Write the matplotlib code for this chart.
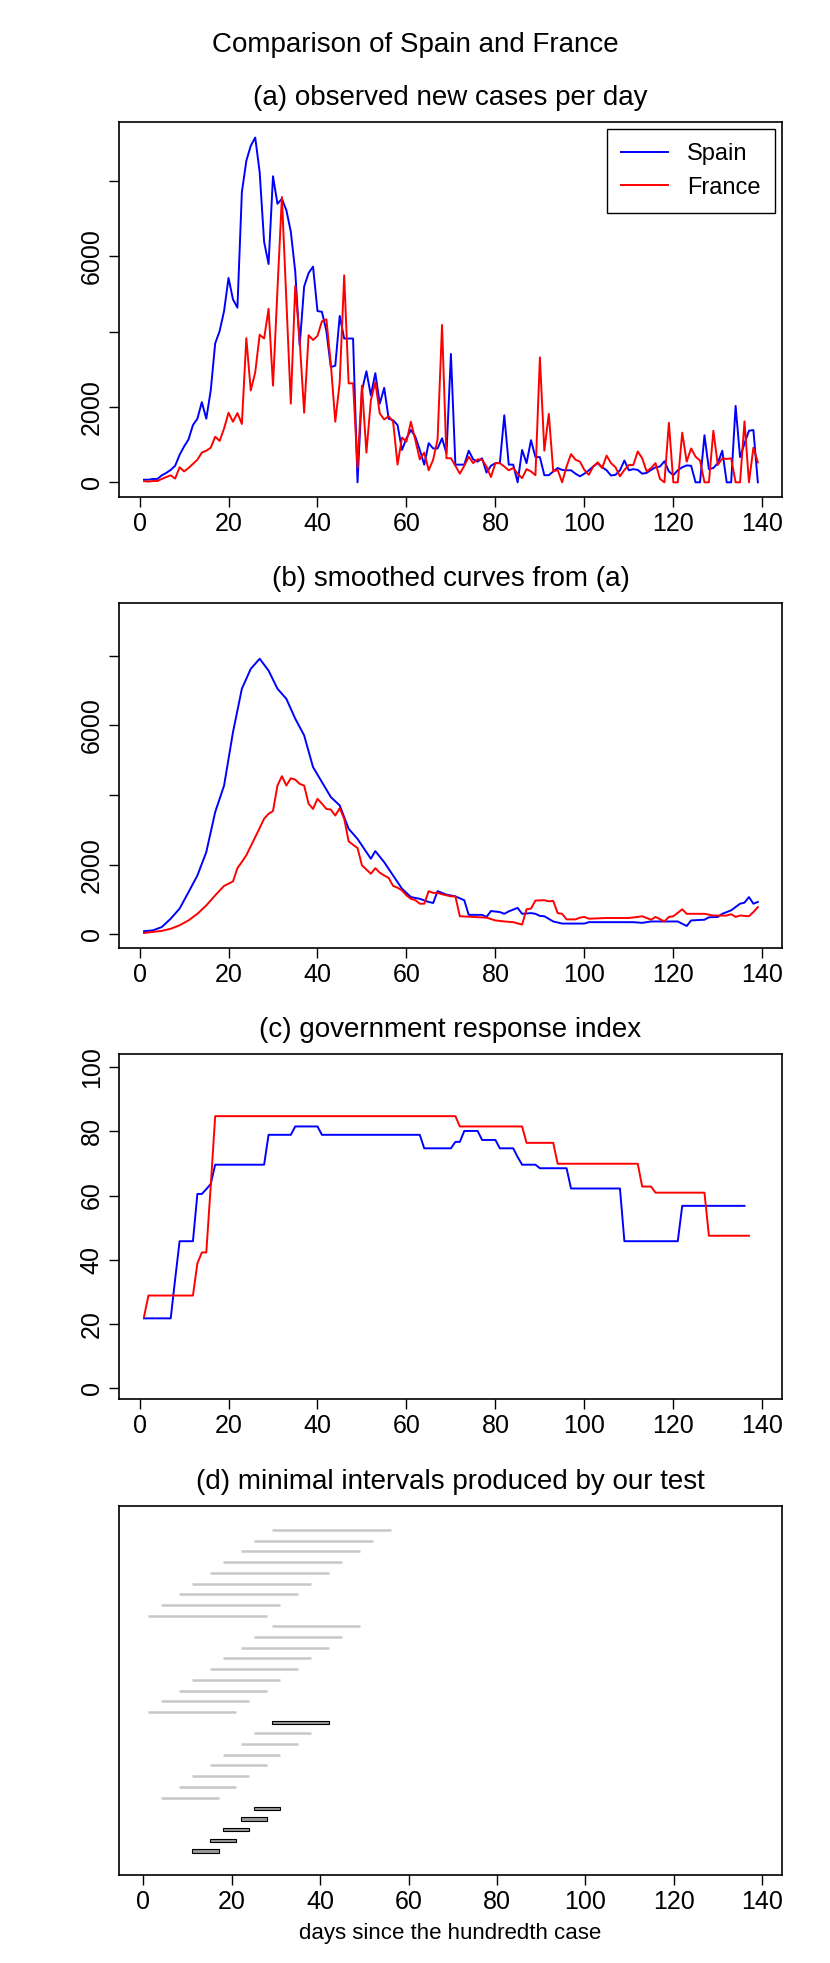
import matplotlib
matplotlib.use("Agg")
import matplotlib.pyplot as plt
from matplotlib.patches import Rectangle

plt.rcParams["font.family"] = "Liberation Sans"
plt.rcParams["font.size"] = 18

# (a) observed new cases per day, days 1..139
spain_obs = [70, 70, 90, 90, 185, 250, 330, 440, 730, 950, 1140, 1520, 1690, 2130, 1690, 2440, 3690, 4020, 4550, 5430,
             4860, 4640, 7710, 8540, 8940, 9160, 8240, 6390, 5800, 8130, 7400, 7530, 7230, 6660, 5600, 3640, 5200, 5560, 5730, 4550,
             4530, 4020, 3060, 3100, 4420, 3820, 3820, 3820, 0, 2440, 2950, 2310, 2900, 2090, 2510, 1690, 1650, 1520, 860, 1170,
             1390, 1210, 860, 470, 1040, 900, 900, 1170, 770, 3410, 470, 470, 470, 840, 610, 550, 640, 260, 440, 510,
             510, 1780, 470, 470, 0, 860, 510, 1120, 670, 670, 190, 190, 290, 380, 330, 320, 320, 230, 160, 230,
             320, 420, 510, 400, 320, 180, 200, 320, 580, 320, 350, 330, 230, 250, 330, 400, 420, 560, 290, 190,
             320, 400, 450, 440, 0, 0, 1250, 350, 380, 510, 840, 0, 0, 2030, 670, 1030, 1370, 1390, 0]
france_obs = [30, 20, 35, 35, 90, 140, 185, 100, 400, 290, 380, 490, 600, 790, 840, 920, 1210, 1100, 1430, 1850,
              1610, 1840, 1550, 3830, 2440, 2920, 3920, 3820, 4610, 2570, 5120, 7580, 4810, 2090, 5220, 3760, 1850, 3910, 3780, 3890,
              4280, 4330, 3140, 1610, 2660, 5500, 2630, 2630, 400, 2570, 790, 2180, 2660, 1830, 1670, 1760, 1610, 470, 1190, 1080,
              1610, 1120, 610, 790, 320, 600, 1140, 4180, 640, 640, 440, 230, 440, 680, 510, 610, 600, 420, 140, 510,
              510, 420, 320, 380, 230, 110, 350, 290, 190, 3320, 840, 1820, 290, 330, 0, 420, 750, 600, 550, 330,
              200, 420, 530, 380, 710, 510, 400, 160, 330, 460, 460, 820, 640, 290, 380, 510, 90, 0, 1580, 0,
              0, 1320, 550, 900, 680, 580, 0, 0, 1370, 460, 640, 620, 640, 0, 0, 1620, 0, 920, 530]
days_obs = list(range(1, 140))

# (b) smoothed curves
spain_sm_days = [1, 3, 5, 7, 9, 11, 13, 15, 17, 19, 21, 23, 25, 27, 29, 31, 33, 35, 37, 39, 41, 43, 45, 47, 49, 51, 52, 53,
                 55, 57, 59, 61, 63, 65, 66, 67, 69, 71, 73, 74, 77, 78, 79, 81, 82, 83, 85, 86, 88, 89, 90, 91, 93, 95,
                 100, 101, 110, 111, 113, 115, 120, 121, 123, 124, 127, 128, 130, 131, 133, 135, 136, 137, 138, 139]
spain_sm = [90, 115, 210, 450, 740, 1210, 1690, 2360, 3510, 4270, 5800, 7050, 7620, 7910, 7570, 7050, 6760, 6190, 5710, 4800,
            4370, 3940, 3700, 3030, 2740, 2360, 2170, 2390, 2070, 1690, 1310, 1070, 1020, 930, 900, 1240, 1140, 1090, 980, 560,
            560, 500, 670, 640, 590, 660, 760, 590, 610, 590, 530, 520, 370, 310, 310, 350, 350, 350, 330, 370,
            370, 370, 240, 400, 420, 490, 500, 590, 690, 880, 910, 1070, 880, 930]
france_sm_days = [1, 3, 5, 7, 9, 11, 13, 15, 17, 19, 21] + list(range(22, 73)) + [75, 78, 80, 82, 84, 86, 87, 88, 89, 91, 92,
                  93, 94, 95, 96, 98, 99, 100, 101, 105, 110, 112, 113, 115, 116, 118, 119, 120, 122, 123, 127, 129, 132,
                  133, 134, 135, 137, 138, 139]
france_sm = [40, 70, 100, 160, 260, 400, 590, 830, 1120, 1390, 1520,
             1900, 2080, 2270, 2530, 2790, 3050, 3320, 3460, 3540, 4270, 4540, 4270, 4480, 4440, 4320, 4270, 3750, 3600, 3890, 3750,
             3600, 3580, 3410, 3620, 3320, 2670, 2570, 2480, 1980, 1860, 1740, 1900, 1770, 1690, 1620, 1390, 1340, 1260, 1120, 1020,
             980, 880, 880, 1240, 1190, 1190, 1150, 1120, 1090, 1090, 520,
             500, 480, 400, 370, 350, 280, 720, 740, 970, 980, 950,
             960, 610, 590, 430, 430, 480, 500, 450, 470, 470, 500, 520, 420, 500, 370, 500, 520, 720, 590, 590, 540, 540,
             580, 500, 540, 520, 640, 780]

# (c) government response index, days 1..137
spain_gri = ([21.8] * 7 + [34] + [45.8] * 4 + [60.5] * 2 + [62, 63.6] + [69.6] * 12 + [78.9] * 6 + [81.5] * 6
             + [78.9] * 23 + [74.7] * 7 + [76.7] * 2 + [80.1] * 4 + [77.3] * 4 + [74.7] * 4 + [72] + [69.6] * 4
             + [68.5] * 7 + [62.2] * 12 + [45.8] * 13 + [56.8] * 15)
france_gri = ([22.3] + [28.9] * 11 + [38.9, 42.3, 42.3, 63] + [84.7] * 55 + [81.5] * 15 + [76.4] * 7 + [69.9] * 19
              + [62.8] * 3 + [60.9] * 12 + [47.5] * 10)

# (d) minimal intervals (start, end, highlighted), bottom to top
int_start = [11, 15, 18, 22, 25, 4, 8, 11, 15, 18, 22, 25, 29, 1, 4, 8, 11, 15, 18, 22, 25, 29,
             1, 4, 8, 11, 15, 18, 22, 25, 29]
int_end = [17, 21, 24, 28, 31, 17, 21, 24, 28, 31, 35, 38, 42, 21, 24, 28, 31, 35, 38, 42, 45, 49,
           28, 31, 35, 38, 42, 45, 49, 52, 56]
int_dark = [1, 1, 1, 1, 1, 0, 0, 0, 0, 0, 0, 0, 1, 0, 0, 0, 0, 0, 0, 0, 0, 0,
            0, 0, 0, 0, 0, 0, 0, 0, 0]

fig = plt.figure(figsize=(8.3, 19.63), dpi=100)
L, W = 0.1435, 0.7985
ax1 = fig.add_axes([L, 0.747, W, 0.191])
ax2 = fig.add_axes([L, 0.517, W, 0.176])
ax3 = fig.add_axes([L, 0.2873, W, 0.1757])
ax4 = fig.add_axes([L, 0.0448, W, 0.188])

fig.text(0.5, 0.977, "Comparison of Spain and France", ha="center", va="center", fontsize=20)

def style(ax, title):
    ax.set_title(title, fontsize=20, pad=12)
    for s in ax.spines.values():
        s.set_linewidth(1.2)
    ax.tick_params(length=7, width=1, labelsize=18, pad=4)
    ax.set_xlim(-4.6, 144.4)
    ax.set_xticks(range(0, 141, 20))

ax1.plot(days_obs, spain_obs, color="blue", lw=1.4, label="Spain")
ax1.plot(days_obs, france_obs, color="red", lw=1.4, label="France")
style(ax1, "(a) observed new cases per day")
ax1.set_ylim(-380, 9580)
ax1.set_yticks(range(0, 8001, 2000))
ax1.set_yticklabels(["0", "2000", "", "6000", ""], rotation=90, va="center")
leg = ax1.legend(loc="upper right", fancybox=False, edgecolor="black", fontsize=17,
                 handlelength=2.0, borderpad=0.6, framealpha=1, borderaxespad=0.3)
leg.get_frame().set_linewidth(1)

ax2.plot(spain_sm_days, spain_sm, color="blue", lw=1.4)
ax2.plot(france_sm_days, france_sm, color="red", lw=1.4)
style(ax2, "(b) smoothed curves from (a)")
ax2.set_ylim(-395, 9520)
ax2.set_yticks(range(0, 8001, 2000))
ax2.set_yticklabels(["0", "2000", "", "6000", ""], rotation=90, va="center")

ax3.plot(range(1, len(spain_gri) + 1), spain_gri, color="blue", lw=1.4)
ax3.plot(range(1, len(france_gri) + 1), france_gri, color="red", lw=1.4)
style(ax3, "(c) government response index")
ax3.set_ylim(-3.3, 104)
ax3.set_yticks(range(0, 101, 20))
ax3.set_yticklabels([str(v) for v in range(0, 101, 20)], rotation=90, va="center")

style(ax4, "(d) minimal intervals produced by our test")
for i, (a, b, d) in enumerate(zip(int_start, int_end, int_dark)):
    if d:
        ax4.add_patch(Rectangle((a, i - 0.16), b - a, 0.32, facecolor="#999999",
                                edgecolor="black", lw=0.8))
    else:
        ax4.plot([a, b], [i, i], color="#c8c8c8", lw=1.8, solid_capstyle="butt")
ax4.set_xlim(-5.5, 144.5)
ax4.set_ylim(-2.24, 32.24)
ax4.set_yticks([])
ax4.set_xlabel("days since the hundredth case", fontsize=16, labelpad=6)

fig.savefig("out.png", dpi=100)
